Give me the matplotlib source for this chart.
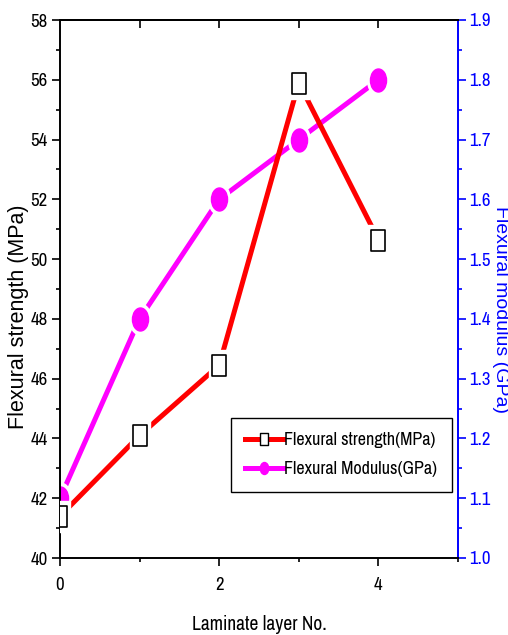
import numpy as np
import matplotlib
matplotlib.use('Agg')

import matplotlib.pyplot as plt
from matplotlib import font_manager
from matplotlib.path import Path
from matplotlib.transforms import Affine2D
from matplotlib.lines import Line2D

# ============================================================
# DATA
# ============================================================

layers = [0, 1, 2, 3, 4]
strength_mpa = [41.4, 44.1, 46.45, 55.9, 50.65]
modulus_gpa = [1.1, 1.4, 1.6, 1.7, 1.8]

# ============================================================
# FONTS
# ============================================================
# ticks / legend use a narrow face when one is installed

names = sorted({f.name for f in font_manager.fontManager.ttflist})
narrow_name = None
for n in names:
    if ('Narrow' in n or 'Condensed' in n) and 'Serif' not in n and 'Mono' not in n:
        narrow_name = n
        break

if narrow_name:
    NARROW = [narrow_name, 'DejaVu Sans']
    tick_size = 13.5
    leg_size = 13
    xlab_size = 14
else:
    NARROW = ['Liberation Sans', 'DejaVu Sans']
    tick_size = 11
    leg_size = 11.5
    xlab_size = 12

REGULAR = ['Liberation Sans', 'DejaVu Sans']

# ============================================================
# MARKERS (tall box, tall ellipse)
# ============================================================

box = Path(
    [(-0.31, -0.5), (0.31, -0.5), (0.31, 0.5), (-0.31, 0.5), (-0.31, -0.5)],
    [Path.MOVETO, Path.LINETO, Path.LINETO, Path.LINETO, Path.CLOSEPOLY]
)

ellipse = Affine2D().scale(0.7, 1.0).transform_path(Path.unit_circle())

px = 0.72  # points per pixel at dpi 100

# ============================================================
# PLOT
# ============================================================

fig = plt.figure(figsize=(5.08, 6.35), dpi=100, facecolor='white')

ax = fig.add_axes([60 / 508, 1 - 558 / 635, 398 / 508, 538 / 635])
ax2 = ax.twinx()

# strength line, gap halo, hollow boxes
ax.plot(layers, strength_mpa, color='#ff0000', lw=5 * px,
        solid_capstyle='butt', zorder=2)
ax.plot(layers, strength_mpa, ls='none', marker=box, ms=31 * px,
        mfc='white', mec='white', zorder=3)
ax.plot(layers, strength_mpa, ls='none', marker=box, ms=21 * px,
        mfc='white', mec='black', mew=1.2, zorder=4)

# modulus line, gap halo, filled ellipses
ax2.plot(layers, modulus_gpa, color='#ff00ff', lw=5 * px,
         solid_capstyle='butt', zorder=2)
ax2.plot(layers, modulus_gpa, ls='none', marker=ellipse, ms=31 * px,
         mfc='white', mec='white', zorder=3)
ax2.plot(layers, modulus_gpa, ls='none', marker=ellipse, ms=23 * px,
         mfc='#ff00ff', mec='#ff00ff', zorder=4)

ax.set_zorder(ax2.get_zorder() + 1)
ax.patch.set_visible(False)

# ------------------------------------------------------------
# AXES
# ------------------------------------------------------------

ax.set_xlim(0, 5)
ax.set_ylim(40, 58)
ax2.set_ylim(1.0, 1.9)

ax.set_xticks([0, 2, 4])
ax.set_xticks([1, 3, 5], minor=True)
ax.set_yticks(np.arange(40, 59, 2))
ax.set_yticks(np.arange(41, 58, 2), minor=True)
ax2.set_yticks(np.arange(1.0, 1.91, 0.1))
ax2.set_yticks(np.arange(1.05, 1.9, 0.1), minor=True)
ax2.set_yticklabels([f'{v:.1f}' for v in np.arange(1.0, 1.91, 0.1)])

ax.tick_params(which='major', direction='out', length=6, width=1.2,
               labelsize=tick_size, pad=3)
ax.tick_params(axis='x', which='major', pad=8)
ax.tick_params(which='minor', direction='out', length=3, width=1.2)

ax2.tick_params(which='major', direction='out', length=6, width=1.2,
                labelsize=tick_size, colors='#0000ff', pad=2)
ax2.tick_params(which='minor', direction='out', length=3, width=1.2,
                colors='#0000ff')

for lab in ax.get_xticklabels() + ax.get_yticklabels() + ax2.get_yticklabels():
    lab.set_family(NARROW)

for side in ['left', 'bottom', 'top']:
    ax.spines[side].set_linewidth(1.4)
ax.spines['right'].set_visible(False)
for side in ['left', 'bottom', 'top']:
    ax2.spines[side].set_visible(False)
ax2.spines['right'].set_color('#0000ff')
ax2.spines['right'].set_linewidth(1.4)

# top ticks point into the plot
top_ax = ax.secondary_xaxis('top')
top_ax.set_xticks([1, 2, 3, 4])
top_ax.tick_params(direction='in', length=6, width=1.2, labeltop=False)
top_ax.spines['top'].set_linewidth(1.4)

ax.set_xlabel('Laminate layer No.', family=NARROW, fontsize=xlab_size)
ax.xaxis.set_label_coords(0.5, -0.106)
ax.set_ylabel('Flexural strength (MPa)', family=REGULAR, fontsize=15.5)
ax.yaxis.set_label_coords(-0.078, 0.449)
ax2.set_ylabel('Flexural modulus (GPa)', family=REGULAR, fontsize=14,
               color='#0000ff', rotation=270, va='center')
ax2.yaxis.set_label_coords(1.108, 0.461)

# ------------------------------------------------------------
# LEGEND
# ------------------------------------------------------------

handles = [
    Line2D([], [], color='#ff0000', lw=5 * px, marker=box, ms=12 * px,
           mfc='white', mec='black', mew=1.0),
    Line2D([], [], color='#ff00ff', lw=5 * px, marker=ellipse, ms=12 * px,
           mfc='#ff00ff', mec='#ff00ff'),
]

leg = fig.legend(
    handles,
    ['Flexural strength(MPa)', 'Flexural Modulus(GPa)'],
    loc='upper left',
    bbox_to_anchor=(231 / 508, 1 - 418 / 635),
    prop={'family': NARROW, 'size': leg_size},
    frameon=True,
    fancybox=False,
    edgecolor='black',
    framealpha=1,
    handlelength=2.1,
    handletextpad=0.05,
    borderpad=0.8,
    labelspacing=0.7,
    borderaxespad=0
)
leg.get_frame().set_linewidth(1.0)

fig.savefig('out.png', dpi=100, facecolor='white')
plt.close(fig)
